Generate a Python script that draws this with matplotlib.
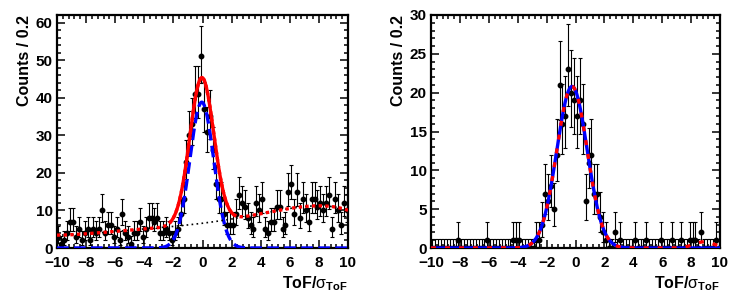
import numpy as np
import matplotlib
matplotlib.use('Agg')
import matplotlib.pyplot as plt
from matplotlib.ticker import MultipleLocator

plt.rcParams['font.family'] = ['Liberation Sans', 'DejaVu Sans']
plt.rcParams['mathtext.fontset'] = 'custom'
plt.rcParams['mathtext.rm'] = 'Liberation Sans'
plt.rcParams['mathtext.it'] = 'Liberation Sans'
plt.rcParams['mathtext.bf'] = 'Liberation Sans:bold'

# ===== DATA (counts per 0.2 bin, ToF/sigma from -10 to 10) =====
bin_edges = np.linspace(-10, 10, 101)

counts_left = [
    3, 1, 2, 4, 7, 7, 3, 5, 2, 4,
    5, 2, 5, 4, 5, 10, 4, 6, 6, 3,
    5, 2, 9, 4, 3, 1, 4, 4, 7, 3,
    5, 8, 8, 7, 8, 4, 4, 5, 4, 2,
    4, 5, 9, 13, 23, 30, 33, 41, 41, 51,
    37, 31, 35, 26, 17, 13, 13, 9, 6, 6,
    6, 9, 14, 12, 11, 8, 6, 5, 12, 10,
    13, 5, 4, 7, 7, 11, 11, 5, 6, 15,
    17, 9, 15, 8, 13, 10, 7, 13, 13, 11,
    12, 10, 12, 14, 5, 13, 10, 6, 12, 10,
]

counts_right = [
    0, 0, 0, 0, 0, 0, 0, 0, 0, 1,
    0, 0, 0, 0, 0, 0, 0, 0, 0, 1,
    0, 0, 0, 0, 0, 0, 0, 0, 1, 1,
    1, 0, 0, 0, 0, 0, 1, 1, 3, 7,
    6, 8, 5, 12, 21, 16, 17, 23, 20, 19,
    17, 19, 16, 6, 11, 12, 7, 7, 4, 2,
    1, 0, 0, 2, 0, 1, 0, 0, 0, 0,
    1, 0, 0, 0, 1, 0, 0, 0, 0, 1,
    0, 0, 0, 1, 0, 0, 1, 0, 0, 1,
    1, 1, 0, 2, 0, 0, 0, 0, 1, 0,
]

# fit results
sig_left = dict(amp=38.8, mean=-0.05, sigma=0.82)
# background polynomial in t = x/10, highest power first
bg_left_coef = [-3.4648, -3.6134, 1.9256, 3.7510, 4.8434, 6.5873]
sig_right = dict(amp=20.8, mean=-0.24, sigma=1.05)
bump_right = dict(amp=0.8, mean=8.9, sigma=0.7)
signal_range = (-2.2, 2.2)


def gauss(x, amp, mean, sigma):
    return amp * np.exp(-0.5 * ((x - mean) / sigma) ** 2)


def poisson_err(n):
    """asymmetric Poisson errors (RooFit style)"""
    n = np.asarray(n, dtype=float)
    m = np.maximum(n, 1)
    lo = np.where(n > 0, n * (1 - 1 / (9 * m) - 1 / (3 * np.sqrt(m))) ** 3, 0)
    up = (n + 1) * (1 - 1 / (9 * (n + 1)) + 1 / (3 * np.sqrt(n + 1))) ** 3
    up = np.where(n == 0, 1.148, up)
    return n - lo, up - n


def style_axes(ax, ymax, ymajor, yminor):
    ax.set_xlim(-10, 10)
    ax.set_ylim(0, ymax)
    ax.xaxis.set_major_locator(MultipleLocator(2))
    ax.xaxis.set_minor_locator(MultipleLocator(0.4))
    ax.yaxis.set_major_locator(MultipleLocator(ymajor))
    ax.yaxis.set_minor_locator(MultipleLocator(yminor))
    ax.tick_params(which='both', direction='in', top=True, right=True,
                   width=1.1, labelsize=11)
    ax.tick_params(axis='x', pad=5.5)
    ax.tick_params(axis='y', pad=3)
    ax.tick_params(which='major', length=6)
    ax.tick_params(which='minor', length=3)
    for sp in ax.spines.values():
        sp.set_linewidth(1.6)
    ax.set_ylabel('Counts / 0.2', fontsize=11.5, fontweight='bold',
                  loc='top', labelpad=3)
    ax.set_xlabel(r'ToF/$\sigma_{\mathbf{ToF}}$', fontsize=11.5,
                  fontweight='bold', loc='right', labelpad=3)


def draw_data(ax, counts):
    c = np.asarray(counts)
    centers = 0.5 * (bin_edges[:-1] + bin_edges[1:])
    lo, up = poisson_err(c)
    ax.errorbar(centers, c, yerr=[lo, up], fmt='o', color='black', ms=3.2,
                elinewidth=0.8, capsize=1.2, capthick=0.8, zorder=3)


fig = plt.figure(figsize=(7.47, 2.99), dpi=100)
ax1 = fig.add_axes([57 / 747, 51 / 299, 291 / 747, 233 / 299])
ax2 = fig.add_axes([431 / 747, 51 / 299, 289 / 747, 233 / 299])

xx = np.linspace(-10, 10, 2000)

# ---- left panel ----
bg = np.polyval(bg_left_coef, xx / 10)
sig = gauss(xx, **sig_left)
tot = sig + bg
draw_data(ax1, counts_left)
ax1.plot(xx, sig, color='blue', lw=2.4, ls=(0, (3.5, 1.6)), zorder=4)
ax1.plot(xx, bg, color='black', lw=1.2, ls=(0, (1, 2)), zorder=4)
ax1.plot(xx, tot, color='red', lw=2.4, ls=(0, (1, 1)), zorder=5)
inr = (xx >= signal_range[0]) & (xx <= signal_range[1])
ax1.plot(xx[inr], tot[inr], color='red', lw=2.4, zorder=6)
style_axes(ax1, 62, 10, 2)

# ---- right panel ----
sig_r = gauss(xx, **sig_right)
tot_r = sig_r + gauss(xx, **bump_right)
draw_data(ax2, counts_right)
ax2.plot(xx, sig_r, color='blue', lw=2.4, zorder=4)
ax2.plot(xx, tot_r, color='red', lw=2.4, ls=(0, (1.5, 2.7)), zorder=5)
style_axes(ax2, 30, 5, 1)

fig.canvas.draw()
for ax in (ax1, ax2):
    for lab in ax.get_xticklabels() + ax.get_yticklabels():
        lab.set_fontweight('bold')

fig.savefig('out.png', dpi=100)
